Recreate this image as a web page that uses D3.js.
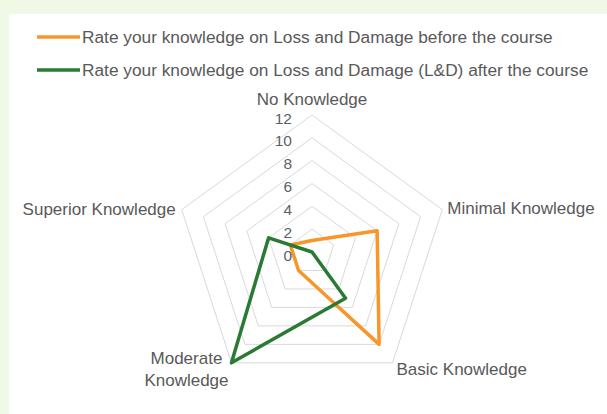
<!DOCTYPE html>
<html>
<head>
<meta charset="utf-8">
<script src="https://cdn.jsdelivr.net/npm/d3@7"></script>
<style>
  html, body { margin: 0; padding: 0; background: #f0f8e6; }
  svg { display: block; }
  text { font-family: "Liberation Sans", Arial, sans-serif; fill: #595959; }
</style>
</head>
<body>
<svg id="chart" width="607" height="414"></svg>
<script>
const categories = ["No Knowledge", "Minimal Knowledge", "Basic Knowledge", "Moderate Knowledge", "Superior Knowledge"];
const seriesNames = [
  "Rate your knowledge on Loss and Damage before the course",
  "Rate your knowledge on Loss and Damage (L&D) after the course"
];
const beforeValues = [1, 6, 10, 2, 2];
const afterValues = [0, 0, 5, 12, 4];
const tickValues = [0, 2, 4, 6, 8, 10, 12];
const seriesColors = ["#f7962a", "#2a7a34"];

const svg = d3.select("#chart");
svg.append("rect").attr("x", 9).attr("y", 14).attr("width", 598).attr("height", 400).attr("fill", "#ffffff");

const cx = 312, cy = 252, R = 137;
const r = d3.scaleLinear().domain([0, 12]).range([0, R]);
const angle = d3.scalePoint().domain(d3.range(categories.length + 1)).range([0, 2 * Math.PI]);
const ang = i => angle(i);
const pt = (i, v) => [cx + r(v) * Math.sin(ang(i)), cy - r(v) * Math.cos(ang(i))];

const g = svg.append("g").attr("transform", `translate(${cx},${cy})`);
const radial = d3.lineRadial().angle((d, i) => ang(i)).radius(d => r(d)).curve(d3.curveLinearClosed);

// grid rings
g.selectAll("path.ring").data(tickValues.filter(t => t > 0)).enter().append("path")
  .attr("class", "ring")
  .attr("d", t => radial(categories.map(() => t)))
  .attr("fill", "none").attr("stroke", "#d9d9d9").attr("stroke-width", 1);

// tick labels
svg.selectAll("text.tick").data(tickValues).enter().append("text")
  .attr("class", "tick")
  .attr("x", cx - 20)
  .attr("y", t => cy - r(t) + 3)
  .attr("text-anchor", "end")
  .attr("dominant-baseline", "central")
  .attr("font-size", 15.5)
  .style("fill", "#5b5f6b")
  .text(t => t);

// series
[beforeValues, afterValues].forEach((vals, k) => {
  g.append("path")
    .attr("d", radial(vals))
    .attr("fill", "none")
    .attr("stroke", seriesColors[k])
    .attr("stroke-width", 3.5)
    .attr("stroke-linejoin", "round");
});

// category labels
const labelCfg = [
  { anchor: "middle", dx: 0, dy: -16, lines: ["No Knowledge"] },
  { anchor: "start", dx: 5, dy: -2, lines: ["Minimal Knowledge"] },
  { anchor: "start", dx: 4, dy: 6, lines: ["Basic Knowledge"] },
  { anchor: "middle", dx: -45, dy: -5, lines: ["Moderate", "Knowledge"] },
  { anchor: "end", dx: -6, dy: -1, lines: ["Superior Knowledge"] }
];
categories.forEach((c, i) => {
  const [x, y] = pt(i, 12);
  const cfg = labelCfg[i];
  const t = svg.append("text")
    .attr("text-anchor", cfg.anchor)
    .attr("font-size", 17)
    .attr("dominant-baseline", "central");
  cfg.lines.forEach((ln, j) => {
    t.append("tspan").attr("x", x + cfg.dx).attr("y", y + cfg.dy + j * 22).text(ln);
  });
});

// legend
const legend = svg.append("g");
seriesNames.forEach((name, k) => {
  const y = 37 + k * 33;
  legend.append("line").attr("x1", 37).attr("x2", 80).attr("y1", y).attr("y2", y)
    .attr("stroke", seriesColors[k]).attr("stroke-width", 3.5);
  legend.append("text").attr("x", 82).attr("y", y).attr("dominant-baseline", "central")
    .attr("font-size", 17.3).text(name);
});
</script>
</body>
</html>
